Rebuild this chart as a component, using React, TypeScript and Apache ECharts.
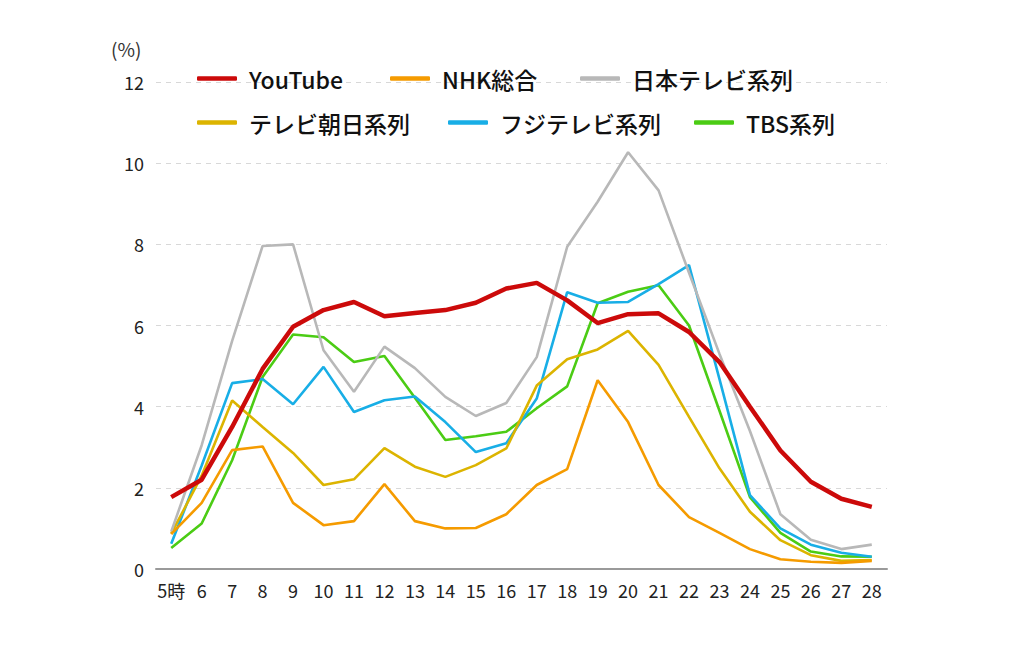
import React, { useEffect, useRef } from "react";
import * as echarts from "echarts";

const hours = ["5時", "6", "7", "8", "9", "10", "11", "12", "13", "14", "15", "16", "17", "18", "19", "20", "21", "22", "23", "24", "25", "26", "27", "28"];

const youtube = [1.77, 2.2, 3.5, 4.93, 5.97, 6.38, 6.58, 6.23, 6.31, 6.38, 6.56, 6.91, 7.05, 6.62, 6.06, 6.28, 6.3, 5.84, 5.1, 4.0, 2.92, 2.15, 1.73, 1.53];
const nhk = [0.86, 1.63, 2.93, 3.02, 1.63, 1.08, 1.18, 2.09, 1.18, 1.0, 1.01, 1.35, 2.07, 2.46, 4.65, 3.62, 2.07, 1.28, 0.89, 0.49, 0.24, 0.18, 0.15, 0.2];
const ntv = [0.92, 3.05, 5.62, 7.96, 8.0, 5.39, 4.37, 5.48, 4.95, 4.24, 3.77, 4.09, 5.22, 7.94, 9.05, 10.27, 9.33, 7.3, 5.3, 3.4, 1.35, 0.72, 0.49, 0.6];
const tvasahi = [0.87, 2.3, 4.15, 3.5, 2.86, 2.07, 2.21, 2.98, 2.52, 2.27, 2.56, 2.97, 4.52, 5.17, 5.41, 5.87, 5.03, 3.75, 2.48, 1.41, 0.71, 0.34, 0.2, 0.22];
const fuji = [0.62, 2.55, 4.58, 4.68, 4.06, 4.98, 3.87, 4.16, 4.25, 3.62, 2.88, 3.1, 4.2, 6.82, 6.56, 6.58, 7.02, 7.49, 4.68, 1.82, 1.0, 0.6, 0.4, 0.3];
const tbs = [0.52, 1.12, 2.68, 4.73, 5.78, 5.71, 5.1, 5.25, 4.22, 3.18, 3.27, 3.38, 3.96, 4.5, 6.55, 6.83, 6.99, 6.0, 3.9, 1.77, 0.89, 0.43, 0.31, 0.3];

const yTicks = { min: 0, max: 12, interval: 2 };

const names = ["YouTube", "NHK総合", "日本テレビ系列", "テレビ朝日系列", "フジテレビ系列", "TBS系列"];
const colors = ["#cc0a0a", "#f59b00", "#b8b8b8", "#dcb400", "#18aee6", "#4bcc14"];
const seriesData = [youtube, nhk, ntv, tvasahi, fuji, tbs];

const FONT = "'Noto Sans CJK JP', 'Noto Sans', sans-serif";

const legendPos = [
  { left: 192, top: 62 },
  { left: 385, top: 62 },
  { left: 575, top: 62 },
  { left: 192, top: 106 },
  { left: 443, top: 106 },
  { left: 689, top: 106 },
];

export default function App() {
  const ref = useRef<HTMLDivElement>(null);
  useEffect(() => {
    if (!ref.current) return;
    const chart = echarts.init(ref.current, undefined, { renderer: "svg" });
    chart.setOption({
      animation: false,
      backgroundColor: "#ffffff",
      grid: { left: 156, right: 125, top: 82, bottom: 93, containLabel: false },
      legend: names.map((n, i) => ({
        data: [n],
        left: legendPos[i].left,
        top: legendPos[i].top,
        icon: "roundRect",
        itemWidth: 40,
        itemHeight: 4.5,
        selectedMode: false,
        textStyle: { fontFamily: FONT, fontSize: 23, fontWeight: 500, color: "#111", padding: [0, 0, 0, 7] },
      })),
      graphic: [
        {
          type: "text",
          left: 111,
          top: 39,
          style: { text: "(%)", fontFamily: FONT, fontSize: 19, fill: "#333" },
        },
      ],
      xAxis: {
        type: "category",
        data: hours,
        boundaryGap: true,
        axisLine: { lineStyle: { color: "#9a9a9a", width: 2 } },
        axisTick: { alignWithLabel: true, length: 7, lineStyle: { color: "#9a9a9a", width: 1.5 } },
        axisLabel: { fontFamily: FONT, fontSize: 18, color: "#222", margin: 12, interval: 0 },
      },
      yAxis: {
        type: "value",
        min: yTicks.min,
        max: yTicks.max,
        interval: yTicks.interval,
        axisLine: { show: false },
        axisTick: { show: false },
        axisLabel: { fontFamily: FONT, fontSize: 18, color: "#222", margin: 12 },
        splitLine: { lineStyle: { color: "#d8d8d8", type: [5, 5], width: 1 } },
      },
      series: names.map((n, i) => ({
        name: n,
        type: "line",
        data: seriesData[i],
        symbol: "none",
        z: i === 0 ? 10 : 2 + (5 - i),
        lineStyle: { color: colors[i], width: i === 0 ? 4.5 : 2.6 },
        itemStyle: { color: colors[i] },
      })),
    });
    return () => chart.dispose();
  }, []);
  return <div ref={ref} style={{ position: "absolute", left: 0, top: 0, width: 1012, height: 662 }} />;
}
